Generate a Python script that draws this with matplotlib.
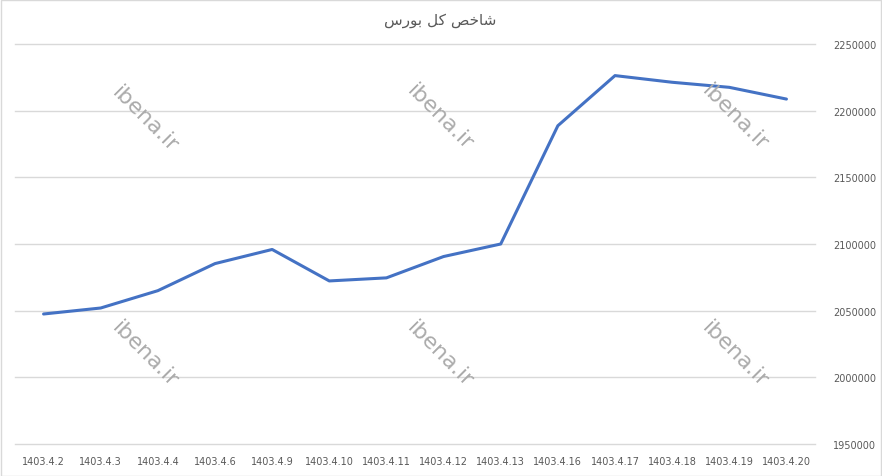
import matplotlib.pyplot as plt
from matplotlib.patches import Rectangle

# data
dates = ['1403.4.2', '1403.4.3', '1403.4.4', '1403.4.6', '1403.4.9', '1403.4.10',
         '1403.4.11', '1403.4.12', '1403.4.13', '1403.4.16', '1403.4.17',
         '1403.4.18', '1403.4.19', '1403.4.20']
index_values = [2047500, 2052000, 2065000, 2085300, 2095900, 2072300, 2074600,
                2090600, 2100000, 2188700, 2226300, 2221300, 2217500, 2208700]
y_ticks = [1950000, 2000000, 2050000, 2100000, 2150000, 2200000, 2250000]

# "شاخص کل بورس" in presentation forms, visual order (matplotlib does no shaping)
title = '\uFEB1\uFEAD\uFEEE\uFE91 \uFEDE\uFEDB \uFEBA\uFEA7\uFE8E\uFEB7'

W, H = 882, 477
fig = plt.figure(figsize=(W / 100, H / 100), dpi=100)
ax = fig.add_axes([15 / W, 32 / H, 800 / W, 400 / H])

x = range(len(dates))
ax.plot(x, index_values, color='#4472C4', linewidth=2.2, solid_capstyle='round', zorder=3)

ax.set_xlim(-0.5, len(dates) - 0.5)
ax.set_ylim(y_ticks[0], y_ticks[-1])
ax.set_xticks(list(x))
ax.set_xticklabels(dates)
ax.set_yticks(y_ticks)
ax.set_yticklabels([str(v) for v in y_ticks])
ax.yaxis.tick_right()
ax.grid(axis='y', color='#d9d9d9', linewidth=1)
for gl in ax.get_ygridlines():
    gl.set_clip_on(False)
ax.tick_params(axis='both', length=0, colors='#595959', labelsize=7)
ax.tick_params(axis='y', pad=13)
ax.tick_params(axis='x', pad=9)
for s in ax.spines.values():
    s.set_visible(False)

fig.text(440 / W, 1 - 20 / H, title, ha='center', va='center', fontsize=11,
         color='#595959', family=['DejaVu Sans'])

# watermarks
for cx, cy in [(145, 120), (440, 118), (735, 118), (145, 355), (440, 355), (735, 355)]:
    fig.text(cx / W, 1 - cy / H, 'ibena.ir', rotation=-45, ha='center', va='center',
             fontsize=16, color='#ababab', rotation_mode='anchor')

# chart border
fig.patches.append(Rectangle((0.5 / W, 0.5 / H), 1 - 2 / W, 1 - 1.5 / H,
                             transform=fig.transFigure, fill=False,
                             edgecolor='#d9d9d9', linewidth=1))

fig.savefig('out.png', dpi=100)
